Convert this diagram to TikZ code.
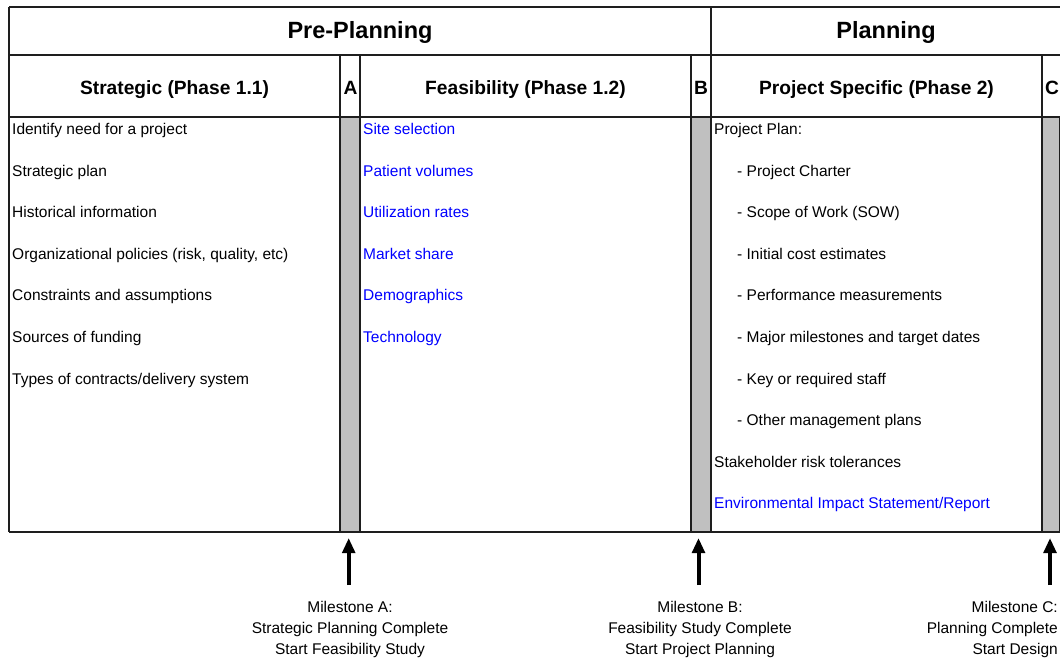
\documentclass[tikz,border=0pt]{standalone}
\usepackage{fontspec}
\setmainfont{Liberation Sans}
\usetikzlibrary{arrows.meta}
\definecolor{colgray}{RGB}{192,192,192}
\definecolor{linkblue}{RGB}{0,0,255}
\definecolor{rulec}{RGB}{30,30,30}
\begin{document}
\begin{tikzpicture}[x=1pt,y=-1pt,
  body/.style={anchor=base west, inner sep=0pt, font=\fontsize{15.5}{18}\selectfont},
  link/.style={body, text=linkblue},
  hone/.style={anchor=base, inner sep=0pt, font=\bfseries\fontsize{23.5}{28}\selectfont},
  htwo/.style={anchor=base, inner sep=0pt, font=\bfseries\fontsize{19.2}{23}\selectfont},
  gridline/.style={draw=rulec, line width=1.3pt},
  milestone/.style={anchor=north, inner sep=0pt, align=center, font=\fontsize{15.5}{21}\selectfont},
  marrow/.style={line width=4pt, -{Triangle[length=15pt,width=12.5pt]}}
]
\clip (0,0) rectangle (1060,660);
\fill[white] (0,0) rectangle (1060,660);
% grey milestone columns
\fill[colgray] (340,117) rectangle (360,532);
\fill[colgray] (691,117) rectangle (711,532);
\fill[colgray] (1042,117) rectangle (1064,532);
% table rules
\draw[gridline] (9,7) -- (1070,7);
\draw[gridline] (9,55) -- (1070,55);
\draw[gridline] (9,117) -- (1070,117);
\draw[gridline] (9,532) -- (1070,532);
\draw[gridline] (9,7) -- (9,532);
\draw[gridline] (711,7) -- (711,532);
\draw[gridline] (340,55) -- (340,532);
\draw[gridline] (360,55) -- (360,532);
\draw[gridline] (691,55) -- (691,532);
\draw[gridline] (1042,55) -- (1042,532);
\draw[gridline] (1059.4,117) -- (1059.4,532);
% headers
\node[hone] (hpre) at (360,39) {Pre-Planning};
\node[hone] (hplan) at (886,39) {Planning};
\node[htwo] (hstrat) at (174.5,95) {Strategic (Phase 1.1)};
\node[htwo] (hA) at (350.5,95) {A};
\node[htwo] (hfeas) at (525.5,95) {Feasibility (Phase 1.2)};
\node[htwo] (hB) at (701,95) {B};
\node[htwo] (hproj) at (876.5,95) {Project Specific (Phase 2)};
\node[htwo] (hC) at (1052,95) {C};
% column 1
\node[body] (s1) at (12,135) {Identify need for a project};
\node[body] (s2) at (12,176.5) {Strategic plan};
\node[body] (s3) at (12,218) {Historical information};
\node[body] (s4) at (12,259.5) {Organizational policies (risk, quality, etc)};
\node[body] (s5) at (12,301) {Constraints and assumptions};
\node[body] (s6) at (12,342.5) {Sources of funding};
\node[body] (s7) at (12,384) {Types of contracts/delivery system};
% column 2
\node[link] (f1) at (363,135) {Site selection};
\node[link] (f2) at (363,176.5) {Patient volumes};
\node[link] (f3) at (363,218) {Utilization rates};
\node[link] (f4) at (363,259.5) {Market share};
\node[link] (f5) at (363,301) {Demographics};
\node[link] (f6) at (363,342.5) {Technology};
% column 3
\node[body] (p1) at (714,135) {Project Plan:};
\node[body] (p2) at (737,176.5) {- Project Charter};
\node[body] (p3) at (737,218) {- Scope of Work (SOW)};
\node[body] (p4) at (737,259.5) {- Initial cost estimates};
\node[body] (p5) at (737,301) {- Performance measurements};
\node[body] (p6) at (737,342.5) {- Major milestones and target dates};
\node[body] (p7) at (737,384) {- Key or required staff};
\node[body] (p8) at (737,425.5) {- Other management plans};
\node[body] (p9) at (714,467) {Stakeholder risk tolerances};
\node[link] (p10) at (714,508.5) {Environmental Impact Statement/Report};
% milestones
\node[milestone] (mA) at (350,601) {Milestone A:\\Strategic Planning Complete\\Start Feasibility Study};
\node[milestone] (mB) at (700,601) {Milestone B:\\Feasibility Study Complete\\Start Project Planning};
\node[milestone, anchor=north east, align=right] (mC) at (1058,601) {Milestone C:\\Planning Complete\\Start Design};
\coordinate (tA) at (348.7,585);
\coordinate (eA) at (348.7,538);
\coordinate (tB) at (698.5,585);
\coordinate (eB) at (698.5,538);
\coordinate (tC) at (1050,585);
\coordinate (eC) at (1050,538);
\draw[marrow] (tA) -- (eA);
\draw[marrow] (tB) -- (eB);
\draw[marrow] (tC) -- (eC);
\end{tikzpicture}
\end{document}
